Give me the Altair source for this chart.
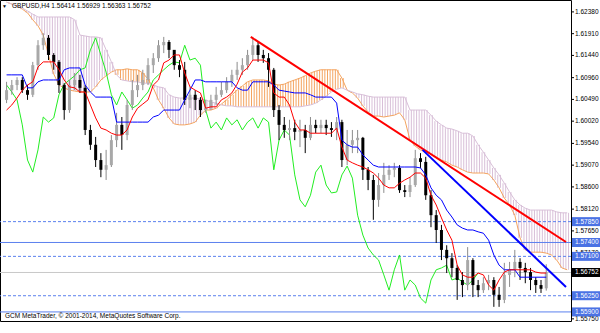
import json
import altair as alt
import pandas as pd

FONT = "Liberation Sans"
FS = 6.5

# ---------------- axis data ----------------
tick_slots = [0, 8, 16, 24, 32, 40, 48, 56, 64, 72, 80, 88, 96]
tick_labels = ["7 Oct 2014", "9 Oct 20:00", "14 Oct 12:00", "17 Oct 04:00", "21 Oct 20:00",
               "24 Oct 12:00", "29 Oct 00:00", "31 Oct 16:00", "5 Nov 08:00", "10 Nov 00:00",
               "12 Nov 16:00", "17 Nov 08:00", "20 Nov 00:00"]
price_ticks = [1.6238, 1.6191, 1.6144, 1.6096, 1.6049, 1.6002, 1.5954, 1.5907, 1.5860,
               1.5812, 1.5765, 1.5717, 1.5575]

# ---------------- candles (one per 8 hours) ----------------
open_ = [1.6048,1.6069,1.6080,1.6091,1.6069,1.6059,1.6123,1.6166,1.6182,1.6145,
         1.6130,1.6080,1.6026,1.6080,1.6091,1.6074,1.5983,1.5951,1.5918,1.5897,
         1.5907,1.5961,1.5994,1.5972,1.6037,1.6069,1.6080,1.6091,1.6123,1.6138,
         1.6166,1.6173,1.6156,1.6123,1.6113,1.6048,1.6059,1.6048,1.6026,1.6030,
         1.6048,1.6059,1.6069,1.6087,1.6102,1.6113,1.6123,1.6145,1.6166,1.6145,
         1.6138,1.6113,1.6026,1.5994,1.5983,1.5987,1.5979,1.5983,1.5966,1.5994,
         1.5987,1.5994,1.5987,1.5983,1.6000,1.5918,1.5951,1.5961,1.5966,1.5897,
         1.5875,1.5832,1.5864,1.5886,1.5897,1.5901,1.5853,1.5849,1.5864,1.5922,
         1.5914,1.5842,1.5799,1.5767,1.5724,1.5706,1.5685,1.5659,1.5648,1.5702,
         1.5648,1.5637,1.5652,1.5659,1.5627,1.5616,1.5670,1.5681,1.5698,1.5685,
         1.5676,1.5659,1.5648,1.5641]
high = [1.6087,1.6091,1.6097,1.6097,1.6080,1.6130,1.6177,1.6192,1.6188,1.6149,
        1.6134,1.6084,1.6091,1.6106,1.6102,1.6080,1.5994,1.5968,1.5933,1.5940,
        1.5972,1.6020,1.6011,1.6048,1.6091,1.6102,1.6113,1.6138,1.6149,1.6177,
        1.6184,1.6177,1.6149,1.6134,1.6130,1.6076,1.6069,1.6054,1.6048,1.6059,
        1.6076,1.6087,1.6097,1.6113,1.6130,1.6138,1.6156,1.6184,1.6173,1.6156,
        1.6149,1.6117,1.6037,1.6011,1.6005,1.6005,1.6005,1.5994,1.6011,1.6005,
        1.6005,1.6005,1.6000,1.6011,1.6005,1.5983,1.5983,1.5983,1.5968,1.5903,
        1.5886,1.5890,1.5912,1.5907,1.5912,1.5907,1.5864,1.5881,1.5940,1.5933,
        1.5925,1.5853,1.5810,1.5778,1.5734,1.5717,1.5691,1.5676,1.5730,1.5706,
        1.5659,1.5665,1.5670,1.5665,1.5644,1.5696,1.5698,1.5724,1.5706,1.5696,
        1.5685,1.5665,1.5659,1.5693]
low = [1.6041,1.6059,1.6069,1.6063,1.6048,1.6054,1.6113,1.6156,1.6134,1.6113,
       1.6063,1.6005,1.6020,1.6069,1.6063,1.5972,1.5940,1.5903,1.5881,1.5875,
       1.5903,1.5946,1.5940,1.5961,1.6026,1.6054,1.6069,1.6080,1.6106,1.6130,
       1.6149,1.6138,1.6113,1.6097,1.6037,1.6030,1.6026,1.6011,1.6020,1.6026,
       1.6037,1.6054,1.6063,1.6076,1.6091,1.6102,1.6113,1.6134,1.6130,1.6128,
       1.6076,1.6011,1.5961,1.5966,1.5961,1.5961,1.5946,1.5933,1.5961,1.5976,
       1.5976,1.5972,1.5968,1.5961,1.5903,1.5907,1.5933,1.5933,1.5875,1.5853,
       1.5789,1.5817,1.5847,1.5875,1.5881,1.5847,1.5838,1.5838,1.5860,1.5901,
       1.5832,1.5773,1.5739,1.5702,1.5674,1.5665,1.5616,1.5622,1.5637,1.5622,
       1.5622,1.5631,1.5637,1.5601,1.5601,1.5609,1.5644,1.5665,1.5659,1.5652,
       1.5637,1.5631,1.5631,1.5636]
close = [1.6069,1.6080,1.6091,1.6069,1.6059,1.6123,1.6166,1.6182,1.6145,1.6130,
         1.6080,1.6026,1.6080,1.6091,1.6074,1.5983,1.5951,1.5918,1.5897,1.5907,
         1.5961,1.5994,1.5972,1.6037,1.6069,1.6080,1.6091,1.6123,1.6138,1.6166,
         1.6173,1.6156,1.6123,1.6113,1.6048,1.6059,1.6048,1.6026,1.6030,1.6048,
         1.6059,1.6069,1.6087,1.6102,1.6113,1.6123,1.6145,1.6166,1.6145,1.6138,
         1.6113,1.6026,1.5994,1.5983,1.5987,1.5979,1.5983,1.5966,1.5994,1.5987,
         1.5994,1.5987,1.5983,1.6000,1.5918,1.5951,1.5961,1.5966,1.5897,1.5875,
         1.5832,1.5864,1.5886,1.5897,1.5901,1.5853,1.5849,1.5864,1.5922,1.5914,
         1.5842,1.5799,1.5767,1.5724,1.5706,1.5685,1.5659,1.5648,1.5702,1.5648,
         1.5637,1.5652,1.5659,1.5627,1.5616,1.5670,1.5681,1.5698,1.5685,1.5676,
         1.5659,1.5648,1.5640,1.5675]

# ---------------- Ichimoku ----------------
tenkan = [1.6026,1.6037,1.6052,1.6069,1.6080,1.6087,1.6119,1.6130,1.6130,1.6130,
          1.6113,1.6091,1.6076,1.6074,1.6065,1.6065,1.6037,1.6009,1.5987,1.5983,
          1.5976,1.5972,1.5972,1.5983,1.6011,1.6030,1.6039,1.6048,1.6080,1.6091,
          1.6128,1.6134,1.6145,1.6145,1.6106,1.6076,1.6069,1.6063,1.6030,1.6033,
          1.6033,1.6048,1.6054,1.6063,1.6082,1.6108,1.6117,1.6134,1.6134,1.6134,
          1.6128,1.6063,1.6054,1.6054,1.6037,1.6000,1.5983,1.5983,1.5976,1.5976,
          1.5976,1.5976,1.5976,1.5987,1.5946,1.5918,1.5912,1.5907,1.5903,1.5897,
          1.5890,1.5879,1.5864,1.5858,1.5858,1.5868,1.5875,1.5881,1.5890,1.5890,
          1.5879,1.5842,1.5821,1.5793,1.5767,1.5745,1.5691,1.5670,1.5665,1.5665,
          1.5674,1.5670,1.5648,1.5637,1.5659,1.5676,1.5681,1.5681,1.5681,1.5681,
          1.5681,1.5676,1.5674,1.5674]
kijun = [1.6102,1.6102,1.6102,1.6102,1.6074,1.6074,1.6087,1.6091,1.6091,1.6091,
         1.6091,1.6113,1.6117,1.6117,1.6117,1.6080,1.6065,1.6054,1.6054,1.6054,
         1.6054,1.6000,1.6000,1.6000,1.6000,1.6000,1.6000,1.6000,1.6011,1.6015,
         1.6026,1.6026,1.6026,1.6026,1.6048,1.6069,1.6091,1.6091,1.6087,1.6087,
         1.6087,1.6087,1.6087,1.6087,1.6074,1.6069,1.6069,1.6087,1.6087,1.6087,
         1.6087,1.6080,1.6069,1.6067,1.6065,1.6063,1.6063,1.6063,1.6059,1.6054,
         1.6054,1.6054,1.6054,1.6041,1.5961,1.5951,1.5946,1.5946,1.5929,1.5918,
         1.5907,1.5903,1.5903,1.5903,1.5903,1.5903,1.5903,1.5903,1.5903,1.5901,
         1.5886,1.5858,1.5842,1.5832,1.5810,1.5795,1.5778,1.5771,1.5767,1.5767,
         1.5763,1.5760,1.5745,1.5713,1.5691,1.5681,1.5681,1.5681,1.5665,1.5665,
         1.5665,1.5665,1.5665,1.5665]
chikou = [1.6080,1.6065,1.6048,1.5994,1.5918,1.5892,1.5940,1.6011,1.6000,1.6009,
          1.6059,1.6082,1.6091,1.6100,1.6113,1.6117,1.6156,1.6182,1.6145,1.6108,
          1.6059,1.6037,1.6065,1.6048,1.6030,1.6037,1.6052,1.6065,1.6091,1.6102,
          1.6113,1.6123,1.6130,1.6128,1.6166,1.6134,1.6138,1.6123,1.6026,1.5987,
          1.6000,1.5983,1.6009,1.5994,1.6005,1.5983,1.6000,1.6009,1.5987,1.6009,
          1.6000,1.5897,1.5961,1.5983,1.5972,1.5886,1.5832,1.5817,1.5842,1.5892,
          1.5907,1.5864,1.5847,1.5849,1.5886,1.5905,1.5879,1.5799,1.5756,1.5728,
          1.5713,1.5702,1.5670,1.5637,1.5681,1.5713,1.5637,1.5659,1.5648,1.5620,
          1.5609,1.5659,1.5681,1.5685,1.5691,1.5659,1.5663,1.5655,1.5648,1.5659,
          1.5674]
span_a = [1.6259,1.6255,1.6251,1.6244,1.6236,1.6221,1.6208,1.6188,1.6145,1.6104,
          1.6080,1.6074,1.6069,1.6067,1.6065,1.6065,1.6065,1.6076,1.6091,1.6100,
          1.6108,1.6113,1.6113,1.6115,1.6113,1.6113,1.6106,1.6093,1.6074,1.6048,
          1.6030,1.6009,1.5996,1.5994,1.5994,1.5996,1.6000,1.6015,1.6026,1.6026,
          1.6030,1.6039,1.6048,1.6059,1.6069,1.6078,1.6087,1.6091,1.6091,1.6091,
          1.6089,1.6082,1.6080,1.6082,1.6087,1.6091,1.6095,1.6100,1.6106,1.6110,
          1.6113,1.6113,1.6113,1.6113,1.6095,1.6069,1.6063,1.6052,1.6035,1.6022,
          1.6013,1.6013,1.6011,1.6013,1.6015,1.6020,1.6005,1.5961,1.5948,1.5940,
          1.5935,1.5931,1.5925,1.5918,1.5914,1.5907,1.5903,1.5897,1.5892,1.5890,
          1.5890,1.5890,1.5888,1.5875,1.5858,1.5836,1.5821,1.5799,1.5750,1.5724,
          1.5719,1.5719,1.5719,1.5717,1.5713,1.5702,1.5685,1.5681]
span_b = [1.6259,1.6255,1.6251,1.6246,1.6240,1.6233,1.6227,1.6227,1.6227,1.6227,
          1.6227,1.6227,1.6227,1.6221,1.6188,1.6186,1.6184,1.6184,1.6182,1.6156,
          1.6130,1.6102,1.6091,1.6089,1.6087,1.6087,1.6084,1.6084,1.6080,1.6076,
          1.6074,1.6059,1.6054,1.6052,1.6052,1.6052,1.6052,1.6050,1.6048,1.6043,
          1.6041,1.6037,1.6035,1.6035,1.6033,1.6033,1.6033,1.6033,1.6033,1.6033,
          1.6033,1.6033,1.6033,1.6033,1.6033,1.6033,1.6033,1.6035,1.6037,1.6041,
          1.6048,1.6056,1.6065,1.6071,1.6074,1.6069,1.6065,1.6061,1.6059,1.6056,
          1.6054,1.6054,1.6054,1.6054,1.6054,1.6054,1.6054,1.6026,1.6026,1.6026,
          1.6026,1.6015,1.6002,1.5994,1.5987,1.5985,1.5981,1.5976,1.5976,1.5970,
          1.5951,1.5935,1.5918,1.5901,1.5886,1.5868,1.5849,1.5832,1.5821,1.5814,
          1.5810,1.5810,1.5810,1.5810,1.5810,1.5806,1.5804,1.5804]

# ---------------- objects ----------------
dashed_levels = [1.5785, 1.5710, 1.5625]
solid_levels = [1.5740, 1.5590]
current_price = [1.56752]
red_trend_slot = [46.6, 106.77]
red_trend_price = [1.6184, 1.5741]
blue_trend_slot = [79.4, 106.77]
blue_trend_price = [1.5940, 1.5644]

title_text = ["GBPUSD,H4  1.56414 1.56929 1.56363 1.56752"]
copyright_text = ["GCM MetaTrader, \u00a9 2001-2014, MetaQuotes Software Corp."]

# ---------------- frames ----------------
candles = pd.DataFrame({"slot": list(range(len(close))), "open": open_, "high": high,
                        "low": low, "close": close})
tk = pd.DataFrame({"slot": list(range(len(tenkan))), "v": tenkan})
kj = pd.DataFrame({"slot": list(range(len(kijun))), "v": kijun})
ch = pd.DataFrame({"slot": list(range(len(chikou))), "v": chikou})
cloud = pd.DataFrame({"slot": list(range(len(span_a))), "a": span_a, "b": span_b})
red_tl = pd.DataFrame({"slot": red_trend_slot, "v": red_trend_price})
blue_tl = pd.DataFrame({"slot": blue_trend_slot, "v": blue_trend_price})
dashed_df = pd.DataFrame({"price": dashed_levels})
solid_df = pd.DataFrame({"price": solid_levels})
cur_df = pd.DataFrame({"price": current_price})
blue_boxes = pd.DataFrame({"price": dashed_levels + solid_levels,
                           "label": [f"{p:.5f}" for p in dashed_levels + solid_levels]})
black_box = pd.DataFrame({"price": current_price,
                          "label": [f"{p:.5f}" for p in current_price]})
yticks_df = pd.DataFrame({"price": price_ticks, "label": [f"{p:.5f}" for p in price_ticks]})
xaxis_df = pd.DataFrame({"slot": tick_slots})

xs = alt.Scale(domain=[-0.3, 106.77], nice=False, zero=False)
ys = alt.Scale(domain=[1.55704, 1.62637], nice=False, zero=False)

label_expr = json.dumps(tick_labels) + "[round(datum.value / 8)]"
x_axis = alt.Axis(values=tick_slots, labelExpr=label_expr, title=None, grid=False,
                  domain=False, ticks=True, tickSize=3, tickColor="black",
                  labelAlign="left", labelBaseline="top", labelPadding=-1,
                  labelOffset=1, labelFontSize=FS, labelFont=FONT, labelColor="black",
                  labelFlush=False, labelOverlap=False, labelBound=False)

PEACH = "#F4A460"
THISTLE = "#D8BFD8"
LEVEL = "#5B80EE"
BOX = "#4A72E4"


def X():
    return alt.X("slot:Q", scale=xs, axis=None)


def Y(field):
    return alt.Y(field, scale=ys, axis=None)


# invisible layer that carries the time axis
xaxis_layer = alt.Chart(xaxis_df).mark_point(opacity=0, size=1).encode(
    x=alt.X("slot:Q", scale=xs, axis=x_axis))

# price scale on the right: ticks and labels
ytick_marks = alt.Chart(yticks_df).mark_rule(color="black", strokeWidth=1).encode(
    x=alt.value(571), x2=alt.value(574), y=Y("price:Q"))
ytick_text = alt.Chart(yticks_df).mark_text(align="left", baseline="middle", fontSize=FS,
                                            font=FONT, color="black").encode(
    x=alt.value(575), y=Y("price:Q"), text="label:N")

hatch_cond = alt.condition("datum.a >= datum.b", alt.value(PEACH), alt.value(THISTLE))
hatch1 = alt.Chart(cloud).mark_rule(strokeWidth=1, xOffset=-1.33, clip=True).encode(
    x=X(), y=Y("a:Q"), y2="b:Q", color=hatch_cond)
hatch2 = alt.Chart(cloud).mark_rule(strokeWidth=1, xOffset=1.33, clip=True).encode(
    x=X(), y=Y("a:Q"), y2="b:Q", color=hatch_cond)
line_a = alt.Chart(cloud).mark_line(strokeWidth=1, color=PEACH, clip=True).encode(
    x=X(), y=Y("a:Q"))
line_b = alt.Chart(cloud).mark_line(strokeWidth=1, color=THISTLE, clip=True).encode(
    x=X(), y=Y("b:Q"))

dashed = alt.Chart(dashed_df).mark_rule(color=LEVEL, strokeWidth=1, strokeDash=[3, 2]).encode(
    y=Y("price:Q"))
solid = alt.Chart(solid_df).mark_rule(color=LEVEL, strokeWidth=1).encode(y=Y("price:Q"))
cur_line = alt.Chart(cur_df).mark_rule(color="#C8C8C8", strokeWidth=1).encode(y=Y("price:Q"))

wicks = alt.Chart(candles).mark_rule(strokeWidth=1, clip=True).encode(
    x=X(), y=Y("low:Q"), y2="high:Q",
    color=alt.condition("datum.close >= datum.open", alt.value("#8C8C8C"), alt.value("#000000")))
bodies = alt.Chart(candles).mark_bar(width=3, clip=True).encode(
    x=X(), y=Y("open:Q"), y2="close:Q",
    color=alt.condition("datum.close >= datum.open", alt.value("#A8A8A8"), alt.value("#000000")))

chikou_l = alt.Chart(ch).mark_line(strokeWidth=1, color="#22EE22", clip=True).encode(x=X(), y=Y("v:Q"))
kijun_l = alt.Chart(kj).mark_line(strokeWidth=1, color="#0000FF", clip=True).encode(x=X(), y=Y("v:Q"))
tenkan_l = alt.Chart(tk).mark_line(strokeWidth=1, color="#FF0000", clip=True).encode(x=X(), y=Y("v:Q"))

red_line = alt.Chart(red_tl).mark_line(strokeWidth=2, color="#FF0000", clip=True).encode(x=X(), y=Y("v:Q"))
blue_line = alt.Chart(blue_tl).mark_line(strokeWidth=2, color="#0000FF", clip=True).encode(x=X(), y=Y("v:Q"))

bbox = alt.Chart(blue_boxes).mark_rect(height=9, color=BOX).encode(
    x=alt.value(572), x2=alt.value(600), y=Y("price:Q"))
btxt = alt.Chart(blue_boxes).mark_text(align="left", baseline="middle", fontSize=FS,
                                       font=FONT, color="white").encode(
    x=alt.value(575), y=Y("price:Q"), text="label:N")
kbox = alt.Chart(black_box).mark_rect(height=9, color="black").encode(
    x=alt.value(572), x2=alt.value(600), y=Y("price:Q"))
ktxt = alt.Chart(black_box).mark_text(align="left", baseline="middle", fontSize=FS,
                                      font=FONT, color="white").encode(
    x=alt.value(575), y=Y("price:Q"), text="label:N")

title_df = pd.DataFrame({"t": title_text})
tri = alt.Chart(title_df).mark_text(text="\u25bc", align="left", baseline="middle",
                                    fontSize=5, color="black").encode(
    x=alt.value(2), y=alt.value(6))
ttl = alt.Chart(title_df).mark_text(align="left", baseline="middle", fontSize=FS,
                                    font=FONT, color="black").encode(
    x=alt.value(12), y=alt.value(6), text="t:N")
cr = alt.Chart(pd.DataFrame({"t": copyright_text})).mark_text(
    align="left", baseline="middle", fontSize=FS, font=FONT, color="black").encode(
    x=alt.value(5), y=alt.value(316), text="t:N")

chart = alt.layer(
    xaxis_layer, hatch1, hatch2, line_a, line_b, dashed, solid, cur_line, chikou_l,
    wicks, bodies, kijun_l, tenkan_l, red_line, blue_line,
    ytick_marks, ytick_text, bbox, btxt, kbox, ktxt, tri, ttl, cr
).properties(
    width=571, height=321,
    autosize=alt.AutoSizeParams(type="none"),
    padding={"left": 0, "top": 0, "right": 29, "bottom": 12},
    background="white",
).configure_view(stroke="black", strokeWidth=1)

chart.save("out.html", embed_options={"renderer": "svg", "actions": False})
